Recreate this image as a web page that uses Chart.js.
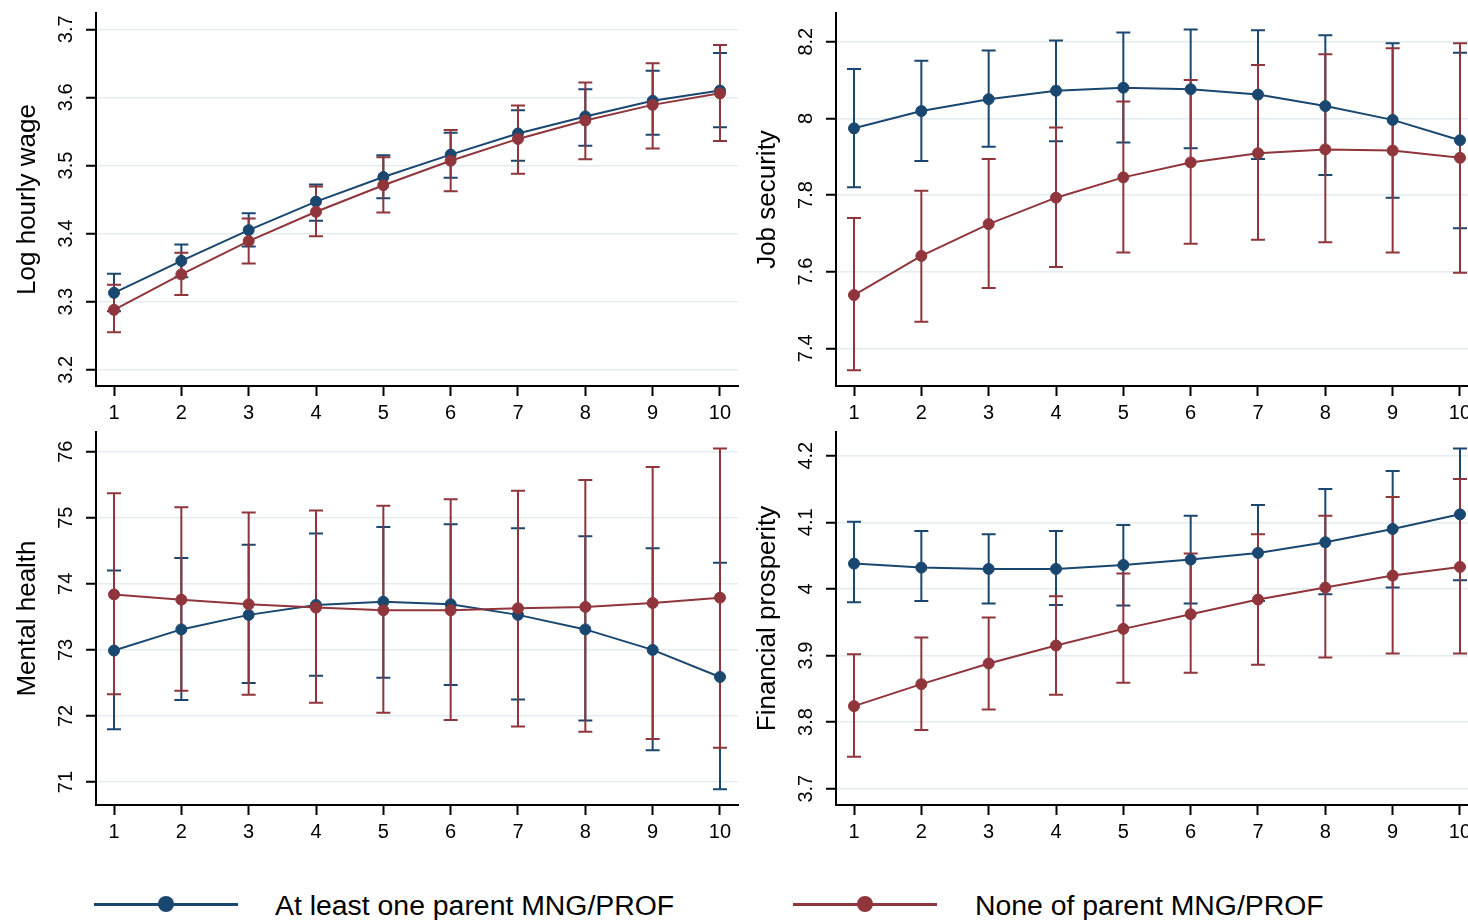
<!DOCTYPE html>
<html>
<head>
<meta charset="utf-8">
<script src="https://cdn.jsdelivr.net/npm/chart.js@4.4.1/dist/chart.umd.min.js"></script>
<style>
  html, body { margin:0; padding:0; background:#fff; width:1468px; height:920px; overflow:hidden; }
  canvas { position:absolute; }
  .lg-line { position:absolute; height:3px; }
  .lg-dot { position:absolute; width:16px; height:16px; border-radius:50%; }
  .lg-text { position:absolute; font:28.4px "Liberation Sans", Arial, sans-serif; line-height:30px; color:#000; white-space:nowrap; }
</style>
</head>
<body>
<canvas id="c1" width="740" height="430" style="left:0;top:0"></canvas>
<canvas id="c2" width="745" height="430" style="left:740px;top:0"></canvas>
<canvas id="c3" width="740" height="440" style="left:0;top:420px"></canvas>
<canvas id="c4" width="745" height="440" style="left:740px;top:420px"></canvas>

<div class="lg-line" style="left:94px;top:903px;width:144px;background:#1a476f"></div>
<div class="lg-dot" style="left:158px;top:896px;background:#1a476f"></div>
<div class="lg-text" id="lg1" style="left:275px;top:890px"></div>
<div class="lg-line" style="left:793px;top:903px;width:144px;background:#90353b"></div>
<div class="lg-dot" style="left:857px;top:896px;background:#90353b"></div>
<div class="lg-text" id="lg2" style="left:975px;top:890px"></div>

<script>
// ---------- data ----------
const seriesLabels = ['At least one parent MNG/PROF', 'None of parent MNG/PROF'];
const xTicks = [1, 2, 3, 4, 5, 6, 7, 8, 9, 10];

// Log hourly wage
const wageTicks = [3.2, 3.3, 3.4, 3.5, 3.6, 3.7];
const blueWage   = [3.313, 3.360, 3.405, 3.447, 3.483, 3.516, 3.547, 3.572, 3.595, 3.610];
const blueWageLo = [3.286, 3.336, 3.381, 3.419, 3.452, 3.482, 3.507, 3.529, 3.545, 3.556];
const blueWageHi = [3.341, 3.384, 3.430, 3.472, 3.515, 3.548, 3.581, 3.612, 3.639, 3.665];
const redWage    = [3.288, 3.340, 3.389, 3.432, 3.471, 3.507, 3.539, 3.566, 3.589, 3.606];
const redWageLo  = [3.255, 3.310, 3.356, 3.396, 3.431, 3.462, 3.488, 3.509, 3.525, 3.536];
const redWageHi  = [3.325, 3.372, 3.422, 3.469, 3.512, 3.552, 3.588, 3.622, 3.650, 3.677];

// Job security
const jobTicks = [7.4, 7.6, 7.8, 8, 8.2];
const blueJob   = [7.974, 8.019, 8.050, 8.072, 8.080, 8.076, 8.062, 8.032, 7.996, 7.943];
const blueJobLo = [7.820, 7.889, 7.926, 7.940, 7.937, 7.922, 7.894, 7.852, 7.793, 7.713];
const blueJobHi = [8.129, 8.150, 8.177, 8.203, 8.224, 8.232, 8.230, 8.217, 8.196, 8.171];
const redJob    = [7.539, 7.641, 7.724, 7.793, 7.846, 7.885, 7.909, 7.919, 7.916, 7.897];
const redJobLo  = [7.343, 7.469, 7.557, 7.612, 7.650, 7.673, 7.683, 7.677, 7.650, 7.597];
const redJobHi  = [7.740, 7.811, 7.894, 7.976, 8.044, 8.100, 8.139, 8.167, 8.183, 8.196];

// Mental health
const mhTicks = [71, 72, 73, 74, 75, 76];
const blueMH   = [72.99, 73.31, 73.53, 73.68, 73.73, 73.69, 73.53, 73.31, 73.00, 72.59];
const blueMHLo = [71.80, 72.24, 72.50, 72.61, 72.58, 72.47, 72.25, 71.93, 71.48, 70.89];
const blueMHHi = [74.20, 74.39, 74.59, 74.76, 74.86, 74.90, 74.84, 74.72, 74.54, 74.32];
const redMH    = [73.84, 73.76, 73.69, 73.64, 73.60, 73.60, 73.63, 73.65, 73.71, 73.79];
const redMHLo  = [72.33, 72.38, 72.32, 72.20, 72.05, 71.94, 71.84, 71.76, 71.65, 71.52];
const redMHHi  = [75.37, 75.16, 75.08, 75.11, 75.18, 75.28, 75.41, 75.57, 75.77, 76.05];

// Financial prosperity
const finTicks = [3.7, 3.8, 3.9, 4, 4.1, 4.2];
const blueFin   = [4.038, 4.032, 4.030, 4.030, 4.036, 4.044, 4.054, 4.070, 4.090, 4.112];
const blueFinLo = [3.980, 3.982, 3.978, 3.976, 3.975, 3.978, 3.982, 3.992, 4.002, 4.013];
const blueFinHi = [4.101, 4.087, 4.082, 4.087, 4.096, 4.110, 4.126, 4.150, 4.177, 4.211];
const redFin    = [3.824, 3.857, 3.888, 3.915, 3.940, 3.962, 3.984, 4.002, 4.020, 4.033];
const redFinLo  = [3.748, 3.788, 3.819, 3.841, 3.859, 3.874, 3.886, 3.897, 3.903, 3.903];
const redFinHi  = [3.902, 3.927, 3.957, 3.989, 4.023, 4.053, 4.082, 4.110, 4.138, 4.165];

// ---------- style ----------
const BLUE = '#1a476f';
const RED = '#90353b';
const FAMILY = '"Liberation Sans", Arial, sans-serif';
const TICK_SIZE = 20;

document.getElementById('lg1').textContent = seriesLabels[0];
document.getElementById('lg2').textContent = seriesLabels[1];

const measureCtx = document.createElement('canvas').getContext('2d');
function labelPad(ticks) {
  measureCtx.font = TICK_SIZE + 'px ' + FAMILY;
  const widest = Math.max(...ticks.map(t => measureCtx.measureText(String(t)).width));
  return Math.max(0, 19.5 - widest / 2);
}

const errorBarPlugin = {
  id: 'errorBars',
  beforeDatasetsDraw(chart, args, opts) {
    const ctx = chart.ctx;
    const xs = chart.scales.x, ys = chart.scales.y;
    ctx.save();
    ctx.lineWidth = 2;
    ctx.lineCap = 'butt';
    opts.sets.forEach(s => {
      ctx.strokeStyle = s.color;
      s.lo.forEach((lo, i) => {
        const px = xs.getPixelForValue(xTicks[i]);
        const pl = ys.getPixelForValue(lo);
        const ph = ys.getPixelForValue(s.hi[i]);
        ctx.beginPath();
        ctx.moveTo(px, pl); ctx.lineTo(px, ph);
        ctx.moveTo(px - 7, pl); ctx.lineTo(px + 7, pl);
        ctx.moveTo(px - 7, ph); ctx.lineTo(px + 7, ph);
        ctx.stroke();
      });
    });
    ctx.restore();
  }
};

function toPts(vals) { return xTicks.map((x, i) => ({ x: x, y: vals[i] })); }

function makePanel(id, p) {
  const ds = (label, vals, color, order) => ({
    label: label, data: toPts(vals), borderColor: color, backgroundColor: color,
    borderWidth: 2, pointRadius: 5.5, pointBorderWidth: 1, pointHoverRadius: 5.5,
    tension: 0, order: order
  });
  new Chart(document.getElementById(id), {
    type: 'line',
    data: {
      datasets: [
        ds(seriesLabels[0], p.blue, BLUE, 1),
        ds(seriesLabels[1], p.red, RED, 0)
      ]
    },
    plugins: [errorBarPlugin],
    options: {
      responsive: false,
      animation: false,
      devicePixelRatio: 1,
      layout: { autoPadding: false, padding: { left: 0, top: p.padTop, right: p.padRight, bottom: 0 } },
      plugins: {
        legend: { display: false },
        tooltip: { enabled: false },
        errorBars: { sets: [
          { lo: p.blueLo, hi: p.blueHi, color: BLUE },
          { lo: p.redLo, hi: p.redHi, color: RED }
        ] }
      },
      scales: {
        x: {
          type: 'linear',
          min: 0.7325, max: 10.2675,
          afterBuildTicks: s => { s.ticks = xTicks.map(v => ({ value: v })); },
          afterFit: s => { s.height = p.xH; s.paddingLeft = 0; s.paddingRight = 0; },
          border: { display: true, color: '#000', width: 2 },
          grid: { drawOnChartArea: false, drawTicks: true, tickLength: 10, tickColor: '#000', tickWidth: 2 },
          ticks: { color: '#000', padding: 5, maxRotation: 0, autoSkip: false,
                   font: { family: FAMILY, size: TICK_SIZE },
                   callback: v => String(v) }
        },
        y: {
          type: 'linear',
          min: p.min, max: p.max,
          afterBuildTicks: s => { s.ticks = p.ticks.map(v => ({ value: v })); },
          afterFit: s => { s.width = 96; s.paddingTop = 0; s.paddingBottom = 0; },
          border: { display: true, color: '#000', width: 2 },
          grid: { color: '#e3ecef', lineWidth: 1.5, drawTicks: true, tickLength: 10, tickColor: '#000', tickWidth: 2 },
          ticks: { color: '#000', minRotation: 90, maxRotation: 90, crossAlign: 'center',
                   padding: labelPad(p.ticks), autoSkip: false,
                   font: { family: FAMILY, size: TICK_SIZE },
                   callback: v => String(+v.toFixed(2)) },
          title: { display: true, text: p.title, color: '#000',
                   font: { family: FAMILY, size: 26 }, padding: { top: 12, bottom: 0 } }
        }
      }
    }
  });
}

makePanel('c1', { title: 'Log hourly wage', ticks: wageTicks, min: 3.1762, max: 3.7239,
  blue: blueWage, blueLo: blueWageLo, blueHi: blueWageHi, red: redWage, redLo: redWageLo, redHi: redWageHi,
  padTop: 13, padRight: 2, xH: 44 });
makePanel('c2', { title: 'Job security', ticks: jobTicks, min: 7.3016, max: 8.2749,
  blue: blueJob, blueLo: blueJobLo, blueHi: blueJobHi, red: redJob, redLo: redJobLo, redHi: redJobHi,
  padTop: 13, padRight: 7, xH: 44 });
makePanel('c3', { title: 'Mental health', ticks: mhTicks, min: 70.652, max: 76.298,
  blue: blueMH, blueLo: blueMHLo, blueHi: blueMHHi, red: redMH, redLo: redMHLo, redHi: redMHHi,
  padTop: 12, padRight: 2, xH: 55 });
makePanel('c4', { title: 'Financial prosperity', ticks: finTicks, min: 3.6755, max: 4.2356,
  blue: blueFin, blueLo: blueFinLo, blueHi: blueFinHi, red: redFin, redLo: redFinLo, redHi: redFinHi,
  padTop: 12, padRight: 7, xH: 55 });
</script>
</body>
</html>
